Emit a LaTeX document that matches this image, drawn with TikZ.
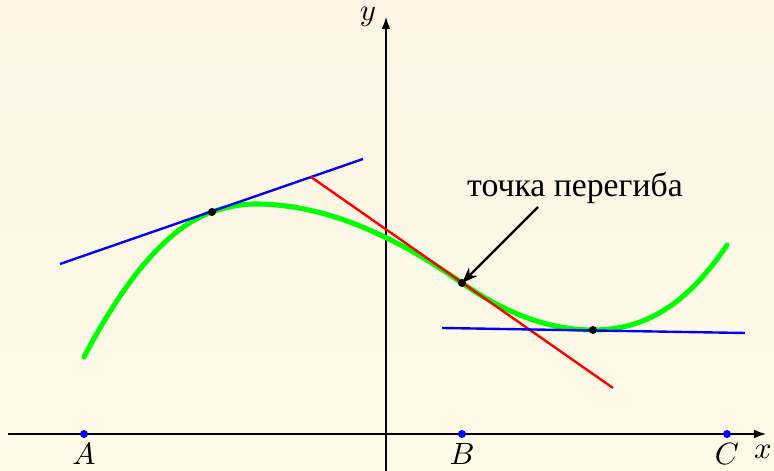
\documentclass[tikz,border=0pt]{standalone}
\usepackage{fontspec}
\newfontfamily\cyrfont{Liberation Serif}
\usepackage{tikz}
\usetikzlibrary{arrows.meta}
\definecolor{paperTop}{RGB}{253,244,228}
\definecolor{paperBottom}{RGB}{255,251,232}
\tikzset{
  graph/.style={
    green,
    line width=1.8pt,
    line cap=round
  },
  tangent/.style={
    line width=0.85pt
  },
  touch/.style={
    circle,
    fill=black,
    inner sep=0pt,
    minimum size=0.1cm
  },
  axisdot/.style={
    circle,
    fill=blue,
    inner sep=0pt,
    minimum size=0.1cm
  },
  axis/.style={
    line width=0.4pt,
    -{Latex[length=1.5mm,width=1.1mm]}
  },
  pointer/.style={
    line width=0.8pt,
    -{Stealth[length=2mm,width=1.5mm]}
  }
}

\begin{document}
\begin{tikzpicture}[x=0.0125cm, y=0.0125cm, font=\fontsize{10.5}{12}\selectfont]
  \shade[top color=paperTop, bottom color=paperBottom] (-386,-37) rectangle (388,434);
  \useasboundingbox (-386,-37) rectangle (388,434);

  \coordinate (Xl) at (-378,0);
  \coordinate (Xr) at (380,0);
  \coordinate (Yb) at (0,-37);
  \coordinate (Yt) at (0,417);
  \draw[axis] (Xl) -- (Xr);
  \draw[axis] (Yb) -- (Yt);
  \node[left] (ylab) at (Yt) {$y$};
  \node (xlab) at (377,-18) {$x$};

  \node[axisdot] (A) at (-302,0) {};
  \node[axisdot] (B) at (76,0) {};
  \node[axisdot] (C) at (341,0) {};
  \node[below] (Alab) at (A) {$A$};
  \node[below] (Blab) at (B) {$B$};
  \node[below] (Clab) at (C) {$C$};

  \coordinate (S) at (-302,77);
  \coordinate (T1) at (-174,222);
  \coordinate (M) at (-131,230);
  \coordinate (T2) at (76,151);
  \coordinate (T3) at (207,104);
  \coordinate (E) at (341,189);

  \draw[graph] (S) .. controls (-259.3,158.1) and (-216.7,207.2) .. (T1)
    .. controls (-159.7,227) and (-145.3,230) .. (M)
    .. controls (-62,230) and (7,199.2) .. (T2)
    .. controls (119.7,120.5) and (163.3,104) .. (T3)
    .. controls (251.7,104) and (296.3,122) .. (E);

  \coordinate (L1a) at (-326,170);
  \coordinate (L1b) at (-23,275);
  \coordinate (L2a) at (-75,257);
  \coordinate (L2b) at (227,46);
  \coordinate (L3a) at (56,106);
  \coordinate (L3b) at (359,101);
  \draw[tangent, blue] (L1a) -- (L1b);
  \draw[tangent, red] (L2a) -- (L2b);
  \draw[tangent, blue] (L3a) -- (L3b);

  \node[touch] (P1) at (T1) {};
  \node[touch] (P2) at (T2) {};
  \node[touch] (P3) at (T3) {};

  \node[font=\cyrfont\fontsize{12}{14}\selectfont] (lbl) at (189,246) {точка перегиба};
  \coordinate (Ptail) at (152,227);
  \draw[pointer] (Ptail) -- (P2.center);
\end{tikzpicture}
\end{document}
